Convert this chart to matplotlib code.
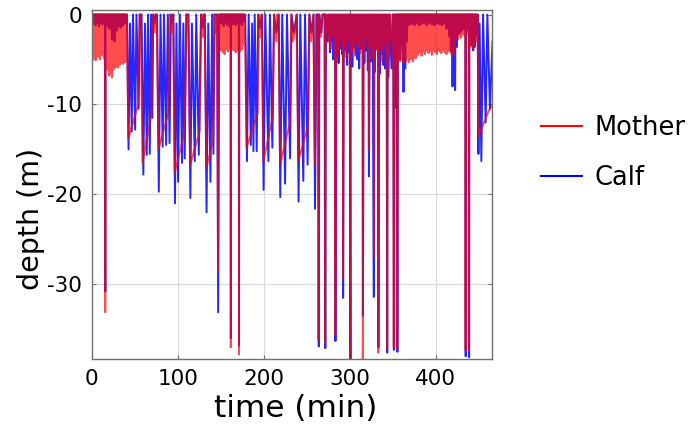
import numpy as np
import matplotlib
matplotlib.use("Agg")
import matplotlib.pyplot as plt

plt.rcParams["axes.unicode_minus"] = False

# ---- dive data (time in min, depth in m) ----
# explicit dive vertices outside the shallow bouts
mother_dive_t = [41.0, 42.5, 54.0, 55.5,
                 57.0, 59.0, 69.5, 71.0, 73.0, 74.0,
                 75.5, 77.5, 89.0, 90.5, 92.5, 93.5,
                 94.5, 96.5, 108.0, 110.0,
                 112.0, 114.5, 125.5, 127.5, 129.0, 130.0,
                 131.0, 133.5, 141.0, 142.5, 144.0,
                 145.8, 146.9, 148.0,
                 178.0, 180.0, 193.0, 194.5, 196.0,
                 197.5, 199.6, 210.5, 212.0, 214.5, 215.5,
                 217.0, 219.0, 230.5, 232.0, 234.0, 236.0,
                 238.0, 240.3, 251.5, 253.0, 255.0,
                 257.5, 259.6, 261.0,
                 263.0, 263.7, 264.4, 266.5, 268.0, 270.6, 271.3, 272.0, 273.5, 274.5,
                 347.0, 349.0, 350.5, 351.2, 351.9, 354.5, 355.2, 355.9, 356.5,
                 448.6, 449.5, 462.0, 466.0]
mother_dive_d = [0.0, -13.8, -10.0, 0.0,
                 0.0, -16.5, -11.0, 0.0, -2.0, 0.0,
                 0.0, -15.0, -11.0, 0.0, -2.0, 0.0,
                 0.0, -17.6, -13.0, 0.0,
                 0.0, -16.7, -13.0, 0.0, -2.5, 0.0,
                 0.0, -17.0, -14.0, 0.0, -2.0,
                 0.0, -28.6, 0.0,
                 0.0, -14.8, -11.0, 0.0, -2.5,
                 0.0, -16.3, -11.3, 0.0, -3.0, 0.0,
                 0.0, -16.7, -12.0, 0.0, -3.0, -2.0,
                 0.0, -16.3, -12.3, 0.0, -3.0,
                 0.0, -16.7, 0.0,
                 0.0, -36.2, 0.0, -2.5, 0.0, 0.0, -36.5, 0.0, -2.0, 0.0,
                 0.0, -3.0, 0.0, -37.0, 0.0, 0.0, -37.2, 0.0, -1.5,
                 0.0, -13.6, -10.6, -10.1]

calf_dive_t = [41.0, 42.8, 44.5, 46.5, 48.0, 50.5, 52.0, 54.5, 56.0,
               58.0, 60.0, 62.0, 64.0, 65.5, 67.5, 69.0, 70.5, 71.5, 73.0, 74.5,
               76.0, 78.0, 80.0, 82.5, 84.0, 86.5, 88.5, 90.5, 92.0, 93.5,
               95.0, 96.8, 98.5, 100.4, 102.5, 105.0, 106.5, 108.1, 110.0,
               112.5, 114.7, 116.5, 119.8, 121.5, 124.5, 127.0, 129.0, 130.5,
               131.5, 133.5, 135.5, 138.0, 140.0, 141.5, 143.0,
               145.8, 147.0, 148.2,
               178.5, 180.5, 182.5, 185.0, 186.5, 188.0, 189.5, 191.8, 193.5, 196.0,
               198.0, 199.8, 201.8, 205.4, 207.2, 210.0, 212.0, 214.5,
               217.5, 219.2, 221.5, 224.8, 227.0, 230.6, 232.3, 235.0,
               238.5, 240.5, 242.5, 246.0, 248.0, 251.0, 253.0, 255.5,
               258.0, 259.6, 261.5,
               263.3, 264.0, 264.7, 267.0, 268.5, 270.9, 271.6, 272.3, 274.0, 275.0,
               346.5, 348.5, 350.0, 350.6, 351.3, 352.0, 353.5, 354.2, 354.7, 355.4,
               356.1, 356.7,
               448.8, 449.6, 451.0, 453.0, 455.0, 458.0, 460.0, 463.0, 466.0]
calf_dive_d = [0.0, -15.0, -1.0, -13.0, 0.0, -12.8, 0.0, -10.5, 0.0,
               0.0, -17.8, -1.0, -15.6, 0.0, -15.5, 0.0, -11.5, 0.0, -1.0, 0.0,
               0.0, -19.7, 0.0, -14.7, 0.0, -14.5, 0.0, -14.3, 0.0, -1.0,
               0.0, -21.0, -1.0, -18.6, 0.0, -16.5, -1.0, -16.0, 0.0,
               0.0, -20.4, -1.0, -16.3, 0.0, -15.6, 0.0, -1.5, 0.0,
               0.0, -22.0, -1.0, -18.6, 0.0, -15.5, 0.0,
               0.0, -33.1, 0.0,
               0.0, -16.3, 0.0, -14.5, -1.0, -15.2, 0.0, -15.2, 0.0, -1.5,
               0.0, -19.5, 0.0, -16.3, 0.0, -14.8, 0.0, -2.0,
               0.0, -20.3, 0.0, -18.8, 0.0, -16.0, 0.0, -2.0,
               0.0, -20.8, 0.0, -18.5, 0.0, -16.7, 0.0, -2.0,
               0.0, -21.6, 0.0,
               0.0, -36.9, 0.0, -2.0, 0.0, 0.0, -37.1, 0.0, -3.0, 0.0,
               0.0, -6.0, 0.0, 0.0, -37.3, 0.0, 0.0, -10.4, 0.0, -37.5,
               0.0, -2.0,
               0.0, -15.5, -1.0, -16.3, 0.0, -12.0, 0.0, -10.5, -3.0]

# deep dives inside the surface bouts (bottom point only)
mother_deep_t = [15.7, 161.7, 171.2, 283.2, 292.2, 300.7, 315.2,
                 322.2, 328.2, 333.2, 343.4, 434.7, 438.6]
mother_deep_d = [-33.1, -37.0, -37.8, -35.6, -29.5, -39.5, -39.5,
                 -15.0, -27.0, -37.6, -37.2, -37.3, -37.4]
calf_deep_t = [15.8, 161.8, 171.3, 283.4, 292.3, 300.8, 315.3,
               322.3, 328.0, 333.3, 343.6, 434.8, 438.8]
calf_deep_d = [-30.8, -36.0, -36.8, -36.3, -31.5, -39.0, -33.5,
               -18.0, -31.4, -37.0, -37.6, -38.0, -38.1]

# shallow surface bouts: start time, dip spacing (min), dip depths
mother_bout_starts = [0.0, 149.0, 275.0, 357.0]
mother_bout_steps = [1.0, 1.0, 2.0, 1.0]
calf_bout_starts = [0.0, 149.0, 276.0, 357.0]
calf_bout_steps = [1.0, 1.0, 2.0, 1.0]

mother_bout1 = [-4.6, -5.0, -4.3, -4.8, -5.1, -4.4, -4.0, -4.7, -4.2, -5.0,
                -4.5, -3.8, -4.2, -4.6, -4.9, -4.0, -5.2, -6.0, -5.5, -6.3,
                -6.8, -5.9, -6.5, -7.0, -6.2, -5.6, -6.0, -5.3, -5.8, -5.5,
                -5.9, -5.2, -5.6, -5.0, -5.4, -5.1, -5.5, -4.9, -5.3, -5.0,
                -5.2]
mother_bout2 = [-3.5, -4.0, -3.2, -4.2, -3.8, -4.4, -3.6, -3.0, -3.9, -4.1,
                -3.4, -3.7, -4.3, -3.5, -3.9, -3.2, -4.0, -3.6, -4.2, -3.8,
                -3.3, -4.0, -3.7, -4.1, -3.5, -3.9, -3.4, -3.0]
mother_bout3 = [-3.0, -3.8, -2.4, -4.2, -3.2, -4.5, -3.5, -2.6, -4.0, -3.4,
                -4.8, -2.9, -3.6, -4.1, -3.9, -4.6, -3.1, -3.7, -4.3, -3.3,
                -5.0, -3.8, -2.6, -4.4, -3.5, -4.9, -3.2, -4.0, -3.6, -4.7,
                -3.9, -5.2, -3.4, -4.2, -4.8, -4.5]
mother_bout4 = [-4.8, -5.2, -4.4, -5.0, -4.6, -5.4, -4.2, -4.9, -5.1, -4.5,
                -4.7, -5.3, -4.1, -4.8, -5.0, -4.4, -5.2, -4.6, -4.0, -4.9,
                -4.3, -3.8, -4.5, -3.6, -4.2, -3.9, -4.6, -3.4, -4.1, -3.7,
                -4.4, -3.5, -4.0, -3.8, -4.3, -3.3, -4.1, -3.9, -4.5, -3.6,
                -4.0, -3.4, -4.2, -3.7, -4.4, -3.2, -3.9, -4.1, -3.5, -4.3,
                -3.8, -4.0, -3.3, -4.2, -3.6, -4.4, -3.9, -3.5, -4.1, -3.7,
                -4.3, -4.0, -4.6, -3.8, -4.2, -3.0, -2.5, -2.2, -2.8, -2.0,
                -2.4, -1.8, -2.6, -2.2, -1.5, -2.0, -2.4, -1.8, -2.2, -1.6,
                -2.0, -1.5, -2.4, -3.0, -3.6, -3.2, -3.8, -2.8, -3.4, -3.0,
                -2.6]

calf_bout1 = [-0.6, -1.0, -0.4, -0.8, -1.2, -0.5, -0.7, -1.0, -1.3, -0.6,
              -0.9, -0.4, -1.1, -0.7, -0.5, -1.0, -1.4, -0.8, -1.2, -0.6,
              -1.6, -1.0, -1.4, -2.8, -1.2, -2.6, -3.0, -1.6, -1.0, -1.8,
              -0.8, -1.3, -0.7, -1.5, -1.0, -0.6, -1.2, -0.9, -0.5, -1.0,
              -0.7]
calf_bout2 = [-0.6, -1.0, -0.4, -0.8, -1.3, -0.5, -0.9, -0.7, -1.2, -0.4,
              -0.8, -1.4, -0.6, -1.0, -0.7, -1.1, -0.4, -0.9, -1.2, -0.6,
              -0.8, -1.0, -0.5, -0.9, -0.7, -1.2, -0.6, -0.8, -0.4]
calf_bout3 = [-4.2, -3.0, -5.0, -3.6, -4.6, -5.4, -3.8, -4.4, -5.2, -4.0,
              -5.6, -4.2, -4.8, -5.8, -3.6, -4.4, -5.0, -6.0, -3.8, -4.4,
              -5.4, -4.0, -6.2, -4.6, -5.2, -4.2, -6.4, -3.8, -5.0, -6.6,
              -4.4, -5.6, -6.0, -5.8, -7.0]
calf_bout4 = [-2.0, -5.0, -3.2, -1.6, -4.0, -8.6, -2.4, -6.0, -1.8, -3.0,
              -0.8, -1.2, -0.5, -1.0, -0.7, -1.1, -0.4, -0.9, -1.2, -0.6,
              -1.0, -0.5, -0.8, -1.2, -0.6, -1.1, -0.4, -0.9, -0.7, -1.0,
              -0.5, -0.8, -1.2, -0.6, -1.0, -0.4, -0.9, -0.7, -1.1, -0.5,
              -0.8, -1.2, -0.6, -1.0, -0.4, -0.9, -0.7, -1.1, -0.5, -0.8,
              -1.2, -0.6, -1.0, -0.5, -0.9, -1.6, -0.8, -1.4, -2.4, -1.2,
              -4.0, -2.6, -8.0, -3.2, -5.0, -8.4, -2.4, -3.6, -1.6, -2.2,
              -1.4, -2.0, -1.0, -1.8, -1.2, -1.6, -1.0, -1.4, -1.8, -1.2,
              -1.6, -1.0, -2.2, -2.8, -3.4, -2.6, -4.0, -3.0, -3.6, -2.4,
              -2.0]


def build_track(dive_t, dive_d, deep_t, deep_d, starts, steps, bouts):
    t = list(dive_t) + list(deep_t)
    d = list(dive_d) + list(deep_d)
    for start, step, dips in zip(starts, steps, bouts):
        for i, dip in enumerate(dips):
            t += [start + i * step, start + i * step + step / 2]
            d += [0.0, dip]
    t = np.array(t)
    d = np.array(d)
    order = np.argsort(t, kind="stable")
    return t[order], d[order]


mother_t, mother_d = build_track(mother_dive_t, mother_dive_d, mother_deep_t, mother_deep_d,
                                 mother_bout_starts, mother_bout_steps,
                                 [mother_bout1, mother_bout2, mother_bout3, mother_bout4])
calf_t, calf_d = build_track(calf_dive_t, calf_dive_d, calf_deep_t, calf_deep_d,
                             calf_bout_starts, calf_bout_steps,
                             [calf_bout1, calf_bout2, calf_bout3, calf_bout4])

fig = plt.figure(figsize=(6.97, 4.30), dpi=100)
ax = fig.add_axes([0.1316, 0.1651, 0.5738, 0.8116])

(calf_line,) = ax.plot(calf_t, calf_d, color="blue", lw=1.4, alpha=0.85, label="Calf")
(mother_line,) = ax.plot(mother_t, mother_d, color="red", lw=1.4, alpha=0.7, label="Mother")

ax.set_xlim(0, 465)
ax.set_ylim(-38.3, 0.5)
ax.set_xticks([0, 100, 200, 300, 400])
ax.set_yticks([0, -10, -20, -30])
ax.grid(True, color="#d8d8d8", lw=0.8)
ax.set_axisbelow(True)
ax.tick_params(direction="in", top=True, right=True, length=3, labelsize=15.5,
               color="#707070", pad=7)
for s in ax.spines.values():
    s.set_color("#707070")
    s.set_linewidth(1.0)

ax.set_xlabel("time (min)", fontsize=22.5)
ax.xaxis.set_label_coords(0.51, -0.1)
ax.set_ylabel("depth (m)", fontsize=20.5)
ax.yaxis.set_label_coords(-0.118, 0.40)

leg = fig.legend([mother_line, calf_line], ["Mother", "Calf"], loc="center left",
                 bbox_to_anchor=(0.743, 0.644), frameon=False, fontsize=18.5,
                 handlelength=1.6, handletextpad=0.5, labelspacing=0.95)
for h in leg.get_lines():
    h.set_alpha(1.0)
    h.set_linewidth(1.5)

fig.savefig("out.png", dpi=100)
